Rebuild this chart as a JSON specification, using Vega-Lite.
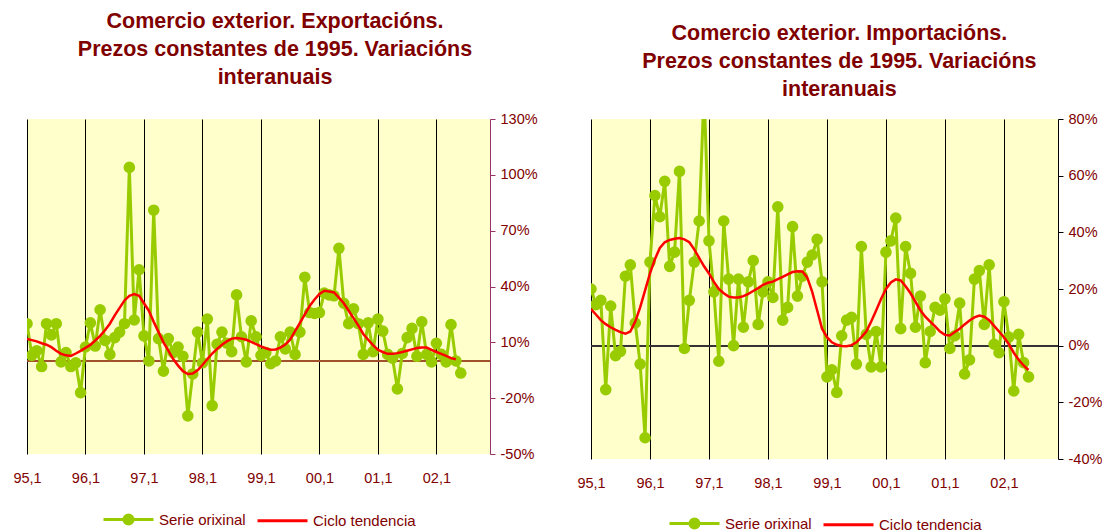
{
  "$schema": "https://vega.github.io/schema/vega-lite/v6.json",
  "background": "white",
  "padding": {"left": 12, "top": 10, "right": 0, "bottom": 0},
  "autosize": {"type": "pad"},
  "bounds": "flush",
  "spacing": 101,
  "resolve": {"scale": {"color": "independent"}, "legend": {"color": "independent"}},
  "data": {"values": [
    {"mes":0,"exp":20,"exp_ct":11.8,"imp":20,"imp_ct":12.9},
    {"mes":1,"exp":3,"exp_ct":11.2,"imp":14.5,"imp_ct":11},
    {"mes":2,"exp":5.5,"exp_ct":10.5,"imp":16,"imp_ct":9},
    {"mes":3,"exp":-3,"exp_ct":9.5,"imp":-15.5,"imp_ct":7.6},
    {"mes":4,"exp":20,"exp_ct":8.7,"imp":14,"imp_ct":6.5},
    {"mes":5,"exp":14,"exp_ct":7.4,"imp":-3.5,"imp_ct":5.6},
    {"mes":6,"exp":20,"exp_ct":5.5,"imp":-2,"imp_ct":4.8},
    {"mes":7,"exp":-0.5,"exp_ct":3.8,"imp":24.5,"imp_ct":4.2},
    {"mes":8,"exp":4.5,"exp_ct":3,"imp":28.5,"imp_ct":5},
    {"mes":9,"exp":-3,"exp_ct":2.7,"imp":8,"imp_ct":8.5},
    {"mes":10,"exp":-1,"exp_ct":4,"imp":-6.5,"imp_ct":13.5},
    {"mes":11,"exp":-17,"exp_ct":5.4,"imp":-32.5,"imp_ct":19.5},
    {"mes":12,"exp":7.5,"exp_ct":7,"imp":29.5,"imp_ct":25.5},
    {"mes":13,"exp":20.5,"exp_ct":8.6,"imp":53,"imp_ct":30.5},
    {"mes":14,"exp":8,"exp_ct":11,"imp":45.5,"imp_ct":34.5},
    {"mes":15,"exp":27.5,"exp_ct":13.5,"imp":58,"imp_ct":36.5},
    {"mes":16,"exp":11,"exp_ct":16.5,"imp":28,"imp_ct":37.3},
    {"mes":17,"exp":3.5,"exp_ct":20,"imp":33,"imp_ct":37.7},
    {"mes":18,"exp":12.5,"exp_ct":24.5,"imp":61.5,"imp_ct":38},
    {"mes":19,"exp":15.5,"exp_ct":28.5,"imp":-1,"imp_ct":37.5},
    {"mes":20,"exp":20,"exp_ct":32.5,"imp":16,"imp_ct":36.5},
    {"mes":21,"exp":104,"exp_ct":35,"imp":29.5,"imp_ct":34},
    {"mes":22,"exp":22,"exp_ct":35.9,"imp":44,"imp_ct":31},
    {"mes":23,"exp":49,"exp_ct":35,"imp":90,"imp_ct":28},
    {"mes":24,"exp":13.5,"exp_ct":31,"imp":37,"imp_ct":25.5},
    {"mes":25,"exp":0,"exp_ct":27,"imp":19,"imp_ct":22.5},
    {"mes":26,"exp":81,"exp_ct":21,"imp":-5.5,"imp_ct":20},
    {"mes":27,"exp":12,"exp_ct":15.5,"imp":44,"imp_ct":18.5},
    {"mes":28,"exp":-5.5,"exp_ct":10,"imp":23.5,"imp_ct":17.3},
    {"mes":29,"exp":12,"exp_ct":5.5,"imp":0,"imp_ct":17},
    {"mes":30,"exp":4.5,"exp_ct":1,"imp":23.5,"imp_ct":17},
    {"mes":31,"exp":7.5,"exp_ct":-2.5,"imp":6.5,"imp_ct":17.5},
    {"mes":32,"exp":2.5,"exp_ct":-5.5,"imp":22.5,"imp_ct":18.3},
    {"mes":33,"exp":-29.5,"exp_ct":-7,"imp":30,"imp_ct":19.3},
    {"mes":34,"exp":-7,"exp_ct":-6.8,"imp":7.5,"imp_ct":20.3},
    {"mes":35,"exp":15.5,"exp_ct":-5,"imp":19,"imp_ct":21.5},
    {"mes":36,"exp":-1,"exp_ct":-2.2,"imp":22.5,"imp_ct":22.2},
    {"mes":37,"exp":22.5,"exp_ct":1,"imp":17,"imp_ct":22.6},
    {"mes":38,"exp":-24,"exp_ct":4,"imp":49,"imp_ct":23.5},
    {"mes":39,"exp":9,"exp_ct":6.5,"imp":9,"imp_ct":24.3},
    {"mes":40,"exp":15.5,"exp_ct":8.7,"imp":13.5,"imp_ct":25.2},
    {"mes":41,"exp":9.5,"exp_ct":10.5,"imp":42,"imp_ct":26},
    {"mes":42,"exp":5,"exp_ct":12,"imp":17.5,"imp_ct":26.3},
    {"mes":43,"exp":35.5,"exp_ct":12.3,"imp":24.5,"imp_ct":26.2},
    {"mes":44,"exp":13,"exp_ct":12,"imp":29.5,"imp_ct":24},
    {"mes":45,"exp":-0.5,"exp_ct":11.4,"imp":32,"imp_ct":19},
    {"mes":46,"exp":21.5,"exp_ct":10.3,"imp":37.5,"imp_ct":12.5},
    {"mes":47,"exp":13,"exp_ct":9,"imp":22.5,"imp_ct":6},
    {"mes":48,"exp":3,"exp_ct":7.8,"imp":-11,"imp_ct":3},
    {"mes":49,"exp":4.5,"exp_ct":6.8,"imp":-8.5,"imp_ct":1.2},
    {"mes":50,"exp":-1.5,"exp_ct":6,"imp":-16.5,"imp_ct":0.3},
    {"mes":51,"exp":0,"exp_ct":6.2,"imp":3.5,"imp_ct":-0.1},
    {"mes":52,"exp":13,"exp_ct":7.2,"imp":9,"imp_ct":-0.2},
    {"mes":53,"exp":6.5,"exp_ct":8.8,"imp":10,"imp_ct":0.2},
    {"mes":54,"exp":15.5,"exp_ct":11.5,"imp":-6.5,"imp_ct":1.2},
    {"mes":55,"exp":3.5,"exp_ct":16,"imp":35,"imp_ct":3},
    {"mes":56,"exp":15.5,"exp_ct":20.5,"imp":4,"imp_ct":5},
    {"mes":57,"exp":45,"exp_ct":25,"imp":-7.5,"imp_ct":8.5},
    {"mes":58,"exp":26,"exp_ct":29.5,"imp":5,"imp_ct":12.4},
    {"mes":59,"exp":25.5,"exp_ct":33,"imp":-7.5,"imp_ct":16.5},
    {"mes":60,"exp":26,"exp_ct":36,"imp":33,"imp_ct":20},
    {"mes":61,"exp":36.5,"exp_ct":37.7,"imp":37,"imp_ct":22.3},
    {"mes":62,"exp":35.5,"exp_ct":37.3,"imp":45,"imp_ct":23.4},
    {"mes":63,"exp":35,"exp_ct":36.8,"imp":6,"imp_ct":23},
    {"mes":64,"exp":60.5,"exp_ct":34,"imp":35,"imp_ct":21},
    {"mes":65,"exp":31,"exp_ct":31,"imp":25.5,"imp_ct":18.5},
    {"mes":66,"exp":20,"exp_ct":27,"imp":6.5,"imp_ct":15.5},
    {"mes":67,"exp":28,"exp_ct":23,"imp":17.5,"imp_ct":12.5},
    {"mes":68,"exp":20,"exp_ct":19,"imp":-6,"imp_ct":10.2},
    {"mes":69,"exp":3.5,"exp_ct":14.5,"imp":5,"imp_ct":8.5},
    {"mes":70,"exp":20.5,"exp_ct":11.4,"imp":13.5,"imp_ct":6.8},
    {"mes":71,"exp":5,"exp_ct":8.5,"imp":12.5,"imp_ct":5},
    {"mes":72,"exp":22.5,"exp_ct":6,"imp":16.5,"imp_ct":3.8},
    {"mes":73,"exp":16,"exp_ct":4.8,"imp":-1,"imp_ct":3.6},
    {"mes":74,"exp":3.5,"exp_ct":3.8,"imp":3.5,"imp_ct":4.8},
    {"mes":75,"exp":1.5,"exp_ct":3.8,"imp":15,"imp_ct":6},
    {"mes":76,"exp":-15,"exp_ct":4.2,"imp":-10,"imp_ct":7.5},
    {"mes":77,"exp":4,"exp_ct":4.8,"imp":-5,"imp_ct":8.9},
    {"mes":78,"exp":12.5,"exp_ct":5.5,"imp":23.5,"imp_ct":10},
    {"mes":79,"exp":17.5,"exp_ct":6.2,"imp":26.5,"imp_ct":10.6},
    {"mes":80,"exp":2.5,"exp_ct":6.9,"imp":7.5,"imp_ct":10.2},
    {"mes":81,"exp":21,"exp_ct":7.2,"imp":28.5,"imp_ct":9},
    {"mes":82,"exp":3.5,"exp_ct":7.2,"imp":0.5,"imp_ct":7},
    {"mes":83,"exp":-0.5,"exp_ct":6,"imp":-2.5,"imp_ct":5},
    {"mes":84,"exp":9.5,"exp_ct":4.8,"imp":15.5,"imp_ct":3},
    {"mes":85,"exp":3.5,"exp_ct":3.8,"imp":3,"imp_ct":0.5},
    {"mes":86,"exp":-0.5,"exp_ct":2.7,"imp":-16,"imp_ct":-2.5},
    {"mes":87,"exp":19.5,"exp_ct":1.5,"imp":4,"imp_ct":-5},
    {"mes":88,"exp":0,"exp_ct":0.9,"imp":-6,"imp_ct":-7},
    {"mes":89,"exp":-6.5,"exp_ct":null,"imp":-11,"imp_ct":-8.6}
  ]},
  "hconcat": [
    {
      "width": 463,
      "height": 335,
      "title": {"text": ["Comercio exterior. Exportacións.", "Prezos constantes de 1995. Variacións", "interanuais"], "offset": 23},
      "layer": [
        {
          "mark": {"type": "rule", "color": "#A0522D", "strokeWidth": 1},
          "encoding": {
            "y": {"datum": 0, "type": "quantitative", "scale": {"domain": [-50, 130], "nice": false, "zero": false},
              "axis": {"orient": "right", "values": [-50, -20, 10, 40, 70, 100, 130], "labelExpr": "datum.value + '%'", "title": null, "grid": false, "domainColor": "#993366", "tickColor": "#993366", "tickSize": 5, "labelColor": "#800000", "labelFontSize": 14.5, "labelPadding": 5, "labelOverlap": false}}
          }
        },
        {
          "mark": {"type": "line", "strokeWidth": 3, "clip": true},
          "encoding": {
            "x": {"field": "mes", "type": "quantitative", "scale": {"domain": [0, 95], "nice": false, "zero": false},
              "axis": {"values": [0, 12, 24, 36, 48, 60, 72, 84], "labelExpr": "pad(toString((datum.value/12+95)%100), 2, '0', 'left') + ',1'", "title": null, "grid": true, "gridColor": "#000000", "gridOpacity": 1, "gridWidth": 1, "domain": false, "ticks": false, "labelFlush": false, "labelColor": "#800000", "labelFontSize": 14.5, "labelPadding": 17}},
            "y": {"field": "exp", "type": "quantitative", "scale": {"domain": [-50, 130], "nice": false, "zero": false},
              "axis": {"orient": "right", "values": [-50, -20, 10, 40, 70, 100, 130], "labelExpr": "datum.value + '%'", "title": null, "grid": false, "domainColor": "#993366", "tickColor": "#993366", "tickSize": 5, "labelColor": "#800000", "labelFontSize": 14.5, "labelPadding": 5, "labelOverlap": false}},
            "color": {"datum": "Serie orixinal", "type": "nominal",
              "scale": {"domain": ["Serie orixinal", "Ciclo tendencia"], "range": ["#99CC00", "#FF0000"]},
              "legend": {"orient": "bottom", "direction": "horizontal", "title": null, "offset": 8, "symbolSize": 2500, "symbolStrokeWidth": 3, "labelFontSize": 15, "labelColor": "#800000", "labelOffset": 4, "columnPadding": 5,
                "encode": {"symbols": {"update": {
                  "shape": {"signal": "datum.value === 'Serie orixinal' ? 'M-1,0H1M-0.18,0A0.18,0.18,0,1,1,0.18,0A0.18,0.18,0,1,1,-0.18,0Z' : 'M-1,0H1'"},
                  "fill": {"signal": "datum.value === 'Serie orixinal' ? '#99CC00' : 'transparent'"},
                  "stroke": {"signal": "datum.value === 'Serie orixinal' ? '#99CC00' : '#FF0000'"},
                  "strokeWidth": {"value": 3},
                  "opacity": {"value": 1}
                }}}}}
          }
        },
        {
          "mark": {"type": "point", "filled": true, "size": 135, "opacity": 1, "clip": true},
          "encoding": {
            "x": {"field": "mes", "type": "quantitative"},
            "y": {"field": "exp", "type": "quantitative"},
            "color": {"datum": "Serie orixinal", "type": "nominal"}
          }
        },
        {
          "mark": {"type": "line", "strokeWidth": 2.5, "clip": true},
          "encoding": {
            "x": {"field": "mes", "type": "quantitative"},
            "y": {"field": "exp_ct", "type": "quantitative"},
            "color": {"datum": "Ciclo tendencia", "type": "nominal"}
          }
        }
      ]
    },
    {
      "width": 467,
      "height": 340,
      "title": {"text": ["Comercio exterior. Importacións.", "Prezos constantes de 1995. Variacións", "interanuais"], "offset": 11},
      "layer": [
        {
          "mark": {"type": "rule", "color": "#333333", "strokeWidth": 1},
          "encoding": {
            "y": {"datum": 0, "type": "quantitative", "scale": {"domain": [-40, 80], "nice": false, "zero": false},
              "axis": {"orient": "right", "values": [-40, -20, 0, 20, 40, 60, 80], "labelExpr": "datum.value + '%'", "title": null, "grid": false, "domainColor": "#000000", "tickColor": "#000000", "tickSize": 5, "labelColor": "#800000", "labelFontSize": 14.5, "labelPadding": 5, "labelOverlap": false}}
          }
        },
        {
          "mark": {"type": "line", "strokeWidth": 3, "clip": true},
          "encoding": {
            "x": {"field": "mes", "type": "quantitative", "scale": {"domain": [0, 95], "nice": false, "zero": false},
              "axis": {"values": [0, 12, 24, 36, 48, 60, 72, 84], "labelExpr": "pad(toString((datum.value/12+95)%100), 2, '0', 'left') + ',1'", "title": null, "grid": true, "gridColor": "#000000", "gridOpacity": 1, "gridWidth": 1, "domain": false, "ticks": false, "labelFlush": false, "labelColor": "#800000", "labelFontSize": 14.5, "labelPadding": 17}},
            "y": {"field": "imp", "type": "quantitative", "scale": {"domain": [-40, 80], "nice": false, "zero": false},
              "axis": {"orient": "right", "values": [-40, -20, 0, 20, 40, 60, 80], "labelExpr": "datum.value + '%'", "title": null, "grid": false, "domainColor": "#000000", "tickColor": "#000000", "tickSize": 5, "labelColor": "#800000", "labelFontSize": 14.5, "labelPadding": 5, "labelOverlap": false}},
            "color": {"datum": "Serie orixinal", "type": "nominal",
              "scale": {"domain": ["Serie orixinal", "Ciclo tendencia"], "range": ["#99CC00", "#FF0000"]},
              "legend": {"orient": "bottom", "direction": "horizontal", "title": null, "offset": 7, "symbolSize": 2500, "symbolStrokeWidth": 3, "labelFontSize": 15, "labelColor": "#800000", "labelOffset": 4, "columnPadding": 5,
                "encode": {"symbols": {"update": {
                  "shape": {"signal": "datum.value === 'Serie orixinal' ? 'M-1,0H1M-0.18,0A0.18,0.18,0,1,1,0.18,0A0.18,0.18,0,1,1,-0.18,0Z' : 'M-1,0H1'"},
                  "fill": {"signal": "datum.value === 'Serie orixinal' ? '#99CC00' : 'transparent'"},
                  "stroke": {"signal": "datum.value === 'Serie orixinal' ? '#99CC00' : '#FF0000'"},
                  "strokeWidth": {"value": 3},
                  "opacity": {"value": 1}
                }}}}}
          }
        },
        {
          "mark": {"type": "point", "filled": true, "size": 135, "opacity": 1, "clip": true},
          "encoding": {
            "x": {"field": "mes", "type": "quantitative"},
            "y": {"field": "imp", "type": "quantitative"},
            "color": {"datum": "Serie orixinal", "type": "nominal"}
          }
        },
        {
          "mark": {"type": "line", "strokeWidth": 2.5, "clip": true},
          "encoding": {
            "x": {"field": "mes", "type": "quantitative"},
            "y": {"field": "imp_ct", "type": "quantitative"},
            "color": {"datum": "Ciclo tendencia", "type": "nominal"}
          }
        }
      ]
    }
  ],
  "config": {
    "font": "Liberation Sans",
    "view": {"stroke": null, "fill": "#FFFFCC"},
    "axis": {"labelFont": "Liberation Sans"},
    "legend": {"labelFont": "Liberation Sans", "layout": {"bottom": {"anchor": "middle"}}},
    "title": {"font": "Liberation Sans", "fontSize": 21.5, "fontWeight": "bold", "color": "#800000", "lineHeight": 28, "anchor": "middle", "frame": "bounds"}
  }
}
